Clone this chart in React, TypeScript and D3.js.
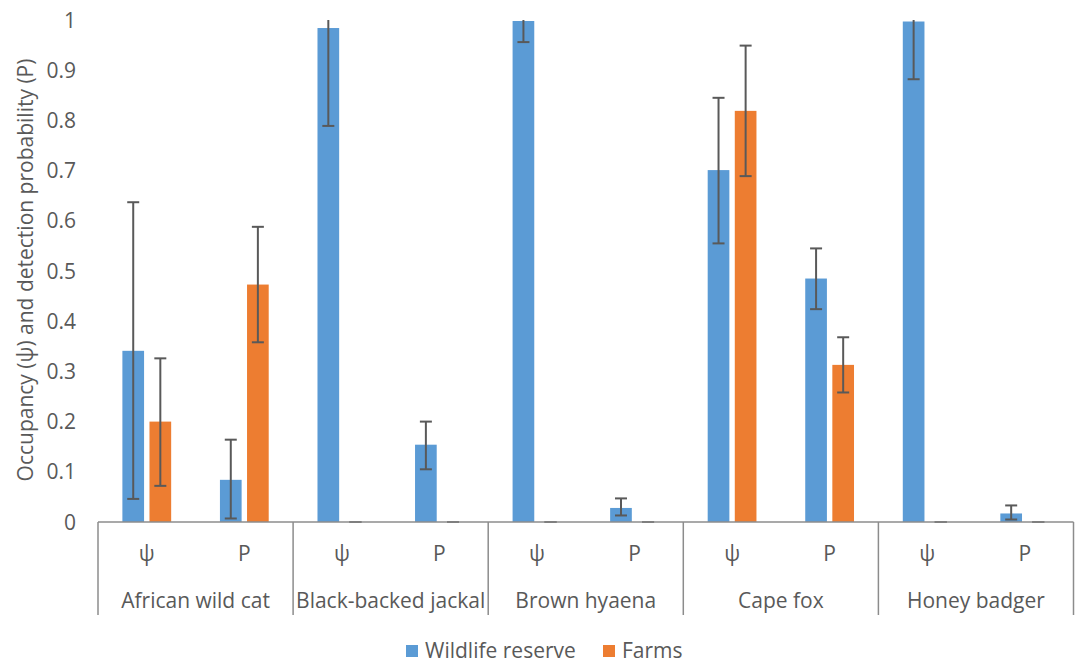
import React from 'react';
import * as d3 from 'd3';

const species = ['African wild cat', 'Black-backed jackal', 'Brown hyaena', 'Cape fox', 'Honey badger'];
const params = ['ψ', 'P'];
const seriesNames = ['Wildlife reserve', 'Farms'];
const colors = ['#5B9BD5', '#ED7D31'];

// values in order: species x param (ψ, P)
const reserveValues = [0.341, 0.084, 0.984, 0.154, 0.998, 0.028, 0.701, 0.485, 0.997, 0.017];
const reserveLow = [0.046, 0.007, 0.789, 0.105, 0.956, 0.013, 0.555, 0.424, 0.882, 0.005];
const reserveHigh = [0.637, 0.164, 1.05, 0.2, 1.05, 0.047, 0.845, 0.545, 1.05, 0.033];

const farmValues = [0.2, 0.473, 0, 0, 0, 0, 0.819, 0.313, 0, 0];
const farmLow = [0.072, 0.358, 0, 0, 0, 0, 0.689, 0.258, 0, 0];
const farmHigh = [0.326, 0.588, 0, 0, 0, 0, 0.949, 0.368, 0, 0];

const yTicks = [0, 0.1, 0.2, 0.3, 0.4, 0.5, 0.6, 0.7, 0.8, 0.9, 1];

const W = 1075;
const H = 664;
const margin = { top: 20, right: 1.5, bottom: 142, left: 98 };
const font = '"Open Sans", Lato, sans-serif';
const fs = 21;
const textColor = '#595959';
const axisColor = '#8C8C8C';

export default function App() {
  const keys = species.flatMap(s => params.map(p => `${s}|${p}`));
  const x0 = d3.scaleBand<string>().domain(keys).range([margin.left, W - margin.right]).padding(0);
  const xg = d3.scaleBand<string>().domain(species).range([margin.left, W - margin.right]).padding(0);
  const x1 = d3.scaleBand<string>().domain(seriesNames).range([0, x0.bandwidth()]).paddingInner(0.2).paddingOuter(0.9);
  const y = d3.scaleLinear().domain([0, 1]).range([H - margin.bottom, margin.top]);

  const series = [
    { name: seriesNames[0], values: reserveValues, lo: reserveLow, hi: reserveHigh, color: colors[0] },
    { name: seriesNames[1], values: farmValues, lo: farmLow, hi: farmHigh, color: colors[1] },
  ];

  const y0 = y(0);
  const sepBottom = 615;
  const capW = 12;

  return (
    <svg width={W} height={H} style={{ position: 'absolute', left: 0, top: 0, background: '#fff' }} fontFamily={font}>
      {/* y tick labels */}
      {yTicks.map(t => (
        <text key={t} x={76} y={y(t)} dy="0.36em" textAnchor="end" fontSize={fs} fill={textColor}>
          {d3.format('~g')(t)}
        </text>
      ))}
      <text
        transform={`translate(33,270) rotate(-90)`}
        textAnchor="middle"
        fontSize={fs}
        fill={textColor}
      >
        Occupancy (ψ) and detection probability (P)
      </text>

      {/* bars */}
      {series.map(s => (
        <g key={s.name}>
          {keys.map((k, i) => (
            <rect
              key={k}
              x={(x0(k) ?? 0) + (x1(s.name) ?? 0)}
              y={y(s.values[i])}
              width={x1.bandwidth()}
              height={y0 - y(s.values[i])}
              fill={s.color}
            />
          ))}
        </g>
      ))}

      {/* error bars */}
      {series.map(s => (
        <g key={s.name + '-err'} stroke="#595959" strokeWidth={2}>
          {keys.map((k, i) => {
            const cx = (x0(k) ?? 0) + (x1(s.name) ?? 0) + x1.bandwidth() / 2;
            const top = y(Math.min(s.hi[i], 1));
            const bot = y(s.lo[i]);
            return (
              <g key={k}>
                <line x1={cx} x2={cx} y1={top} y2={bot} />
                {s.hi[i] <= 1 && <line x1={cx - capW / 2} x2={cx + capW / 2} y1={top} y2={top} />}
                <line x1={cx - capW / 2} x2={cx + capW / 2} y1={bot} y2={bot} />
              </g>
            );
          })}
        </g>
      ))}

      {/* x axis */}
      <line x1={margin.left} x2={W - margin.right} y1={y0} y2={y0} stroke={axisColor} strokeWidth={1.5} />
      {[...species.map(s => xg(s) ?? 0), W - margin.right].map((bx, i) => (
        <line key={i} x1={bx} x2={bx} y1={y0} y2={sepBottom} stroke={axisColor} strokeWidth={1.5} />
      ))}
      {keys.map(k => (
        <text
          key={k}
          x={(x0(k) ?? 0) + x0.bandwidth() / 2}
          y={553}
          dy="0.36em"
          textAnchor="middle"
          fontSize={fs}
          fill={textColor}
        >
          {k.split('|')[1]}
        </text>
      ))}
      {species.map(s => (
        <text
          key={s}
          x={(xg(s) ?? 0) + xg.bandwidth() / 2}
          y={600}
          dy="0.36em"
          textAnchor="middle"
          fontSize={fs}
          fill={textColor}
        >
          {s}
        </text>
      ))}

      {/* legend */}
      <g>
        <rect x={406} y={645} width={12} height={12} fill={colors[0]} />
        <text x={425} y={657.5} fontSize={fs} fill={textColor}>{seriesNames[0]}</text>
        <rect x={603} y={645} width={12} height={12} fill={colors[1]} />
        <text x={622} y={657.5} fontSize={fs} fill={textColor}>{seriesNames[1]}</text>
      </g>
    </svg>
  );
}
